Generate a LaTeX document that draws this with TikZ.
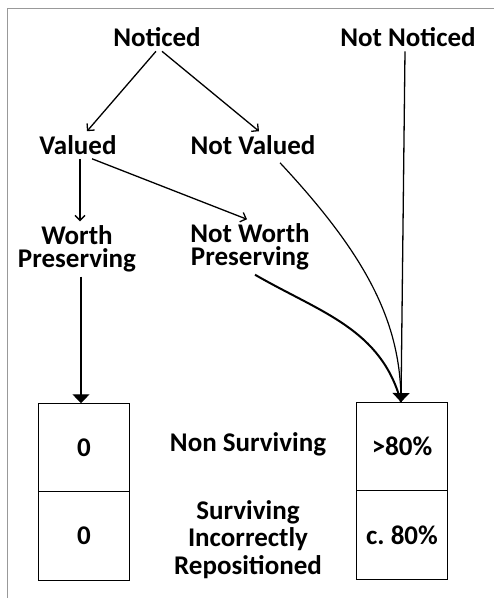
\documentclass[tikz,border=0pt]{standalone}
\usepackage{fontspec}
\setmainfont{Carlito}
\usetikzlibrary{arrows.meta, positioning}
\tikzset{
    term/.style = {
      font=\bfseries\fontsize{27}{23.5}\selectfont, align=center, inner sep=4pt,
    },
    term tall/.style = {
      term, font=\bfseries\fontsize{27}{27.5}\selectfont,
    },
    cell/.style = {
      draw, line width=1pt, minimum width=91pt, minimum height=88.5pt,
      inner sep=0, outer sep=0, font=\bfseries\fontsize{27}{32}\selectfont,
    },
    link/.style = {line width=1.3pt, arrows={-Straight Barb[length=5pt, width=10pt]}},
    feed/.style = {line width=1.3pt, arrows={-Triangle[length=9pt, width=17pt]}},
    flow/.style = {line width=1.2pt},
    flow heavy/.style = {line width=2pt},
    frame line/.style = {line width=1.4pt, black!40!white},
}

\begin{document}
\begin{tikzpicture}[x=1pt, y=-1pt]
    \useasboundingbox (0,0) rectangle (494,598);

    %% Outer frame, only its left and top edges show
    \draw [frame line] (7.5,598) -- (7.5,8.5) -- (494,8.5);

    %% The terms of the tree
    \node [term] (noticed) at (157,37.5) {Noticed};
    \node [term] (notnoticed) at (408,37.5) {Not Noticed};
    \node [term] (valued) at (78,145) {Valued};
    \node [term] (notvalued) at (253,145) {Not Valued};
    \node [term] (worth) at (77,249) {Worth\\Preserving};
    \node [term] (notworth) at (250,247) {Not Worth\\Preserving};

    %% The two result columns
    \node [cell] (lefttop) at (84,447.5) {0};
    \node [cell, below=0pt of lefttop] (leftbot) {0};
    \node [cell] (righttop) at (402,446.3) {>80\%};
    \node [cell, below=0pt of righttop] (rightbot) {c.\ 80\%};

    %% Row captions between the columns
    \node [term] (nonsurviving) at (248,444) {Non Surviving};
    \node [term tall] (surviving) at (248,539.5) {Surviving\\Incorrectly\\Repositioned};

    %% Branches of the tree
    \draw [link] ([xshift=-1pt] noticed.south) -- ([xshift=9pt] valued.north);
    \draw [link] ([xshift=5pt] noticed.south) -- ([xshift=6pt] notvalued.north);
    \draw [link] ([xshift=2pt] valued.south) -- ([xshift=3pt] worth.north);
    \draw [link] ([xshift=14pt] valued.south) -- ([xshift=-3pt] notworth.north);

    %% Into the result columns
    \draw [feed] ([xshift=4pt] worth.south) -- ([xshift=-3pt] lefttop.north);
    \draw [flow] ([shift={(27pt,-4pt)}] notvalued.south)
      to [out=-47, in=90, out looseness=1.2, in looseness=0.77] ([xshift=-1pt] righttop.north);
    \draw [flow heavy] ([xshift=5pt] notworth.south)
      to [out=-30, in=105] ([xshift=-1pt] righttop.north);
    \draw [feed] ([xshift=-3pt] notnoticed.south) -- ([xshift=-1pt] righttop.north);
\end{tikzpicture}
\end{document}
